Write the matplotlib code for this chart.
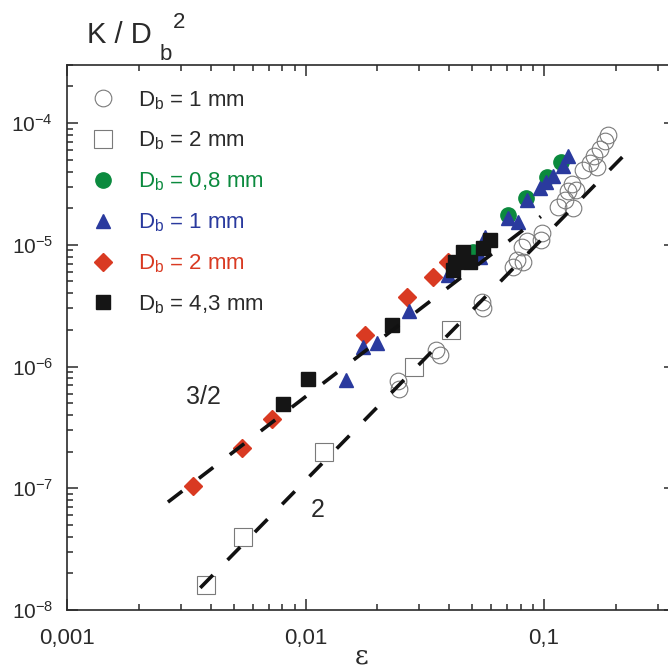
import matplotlib
matplotlib.use("Agg")
import matplotlib.pyplot as plt
from matplotlib.ticker import LogLocator, FuncFormatter, NullFormatter
import numpy as np

plt.rcParams['font.family'] = ['Liberation Sans', 'DejaVu Sans']
plt.rcParams['mathtext.fontset'] = 'custom'
plt.rcParams['mathtext.rm'] = 'Liberation Sans'
plt.rcParams['mathtext.it'] = 'Liberation Sans:italic'
plt.rcParams['mathtext.bf'] = 'Liberation Sans:bold'
plt.rcParams['axes.unicode_minus'] = False

# ---------------- data ----------------
open_circle_x = [0.0244, 0.0246, 0.0352, 0.0366, 0.0549, 0.0555, 0.0741, 0.0771,
                 0.0809, 0.0849, 0.0817, 0.0982, 0.0971, 0.1146, 0.1225, 0.1325,
                 0.126, 0.131, 0.136, 0.146, 0.156, 0.162, 0.172, 0.167, 0.180, 0.185]
open_circle_y = [7.6e-7, 6.5e-7, 1.37e-6, 1.24e-6, 3.4e-6, 3.0e-6, 6.6e-6, 7.5e-6,
                 9.6e-6, 1.08e-5, 7.2e-6, 1.25e-5, 1.1e-5, 2.05e-5, 2.34e-5, 2.01e-5,
                 2.77e-5, 3.16e-5, 2.82e-5, 4.12e-5, 4.71e-5, 5.37e-5, 6.14e-5, 4.36e-5,
                 7.1e-5, 8.0e-5]

open_square_x = [0.00383, 0.00547, 0.0120, 0.0285, 0.0407]
open_square_y = [1.6e-8, 4.0e-8, 2.0e-7, 9.9e-7, 2.0e-6]

green_x = [0.0504, 0.0706, 0.0841, 0.103, 0.1178]
green_y = [8.7e-6, 1.76e-5, 2.43e-5, 3.61e-5, 4.8e-5]

blue_x = [0.0148, 0.0174, 0.0200, 0.0272, 0.0395, 0.054, 0.0566, 0.0706, 0.0778,
          0.0849, 0.0962, 0.1019, 0.109, 0.120, 0.126]
blue_y = [7.8e-7, 1.45e-6, 1.56e-6, 2.86e-6, 5.66e-6, 7.96e-6, 1.16e-5, 1.66e-5,
          1.54e-5, 2.34e-5, 2.94e-5, 3.29e-5, 3.68e-5, 4.45e-5, 5.37e-5]

red_x = [0.00337, 0.00542, 0.00725, 0.0177, 0.0267, 0.0343, 0.0395]
red_y = [1.05e-7, 2.14e-7, 3.7e-7, 1.82e-6, 3.73e-6, 5.44e-6, 7.2e-6]

black_x = [0.00806, 0.0102, 0.0231, 0.0415, 0.0424, 0.0457, 0.049, 0.0555, 0.0594]
black_y = [4.9e-7, 7.9e-7, 2.2e-6, 6.2e-6, 7.2e-6, 8.7e-6, 7.2e-6, 9.4e-6, 1.1e-5]

line32_x = [0.00265, 0.097]
line32_y = [7.7e-8, 1.71e-5]
line2_x = [0.00362, 0.239]
line2_y = [1.52e-8, 6.63e-5]

legend_labels = [r"D$_\mathregular{b}$ = 1 mm", r"D$_\mathregular{b}$ = 2 mm",
                 r"D$_\mathregular{b}$ = 0,8 mm", r"D$_\mathregular{b}$ = 1 mm",
                 r"D$_\mathregular{b}$ = 2 mm", r"D$_\mathregular{b}$ = 4,3 mm"]
x_tick_values = [0.001, 0.01, 0.1]
x_tick_labels = ["0,001", "0,01", "0,1"]

# ---------------- style ----------------
GRAY = '#7a7a7a'
GREEN = '#0b8a3e'
BLUE = '#2a3a9e'
RED = '#d93a22'
BLACK = '#151515'
TXT = '#2a2a2a'

fig = plt.figure(figsize=(6.68, 6.72), dpi=100)
ax = fig.add_axes([67/668, (672-610)/672, 608/668, 545/672])
ax.set_xscale('log')
ax.set_yscale('log')
ax.set_xlim(0.001, 0.354)
ax.set_ylim(1e-8, 3.0e-4)

h1, = ax.plot(open_circle_x, open_circle_y, 'o', ms=12, mfc='none', mec=GRAY, mew=0.8,
              ls='none', label=legend_labels[0], zorder=2)
h2, = ax.plot(open_square_x, open_square_y, 's', ms=12.5, mfc='white', mec=GRAY, mew=0.8,
              ls='none', label=legend_labels[1], zorder=2)
h3, = ax.plot(green_x, green_y, 'o', ms=11, color=GREEN, mec=GREEN,
              ls='none', label=legend_labels[2], zorder=3)
h5, = ax.plot(red_x, red_y, 'D', ms=9.5, color=RED, mec=RED,
              ls='none', label=legend_labels[4], zorder=3)
h4, = ax.plot(blue_x, blue_y, '^', ms=10, color=BLUE, mec=BLUE,
              ls='none', label=legend_labels[3], zorder=4)
h6, = ax.plot(black_x, black_y, 's', ms=10, color=BLACK, mec=BLACK,
              ls='none', label=legend_labels[5], zorder=5)

ax.plot(line32_x, line32_y, color='#111111', lw=2.6, dashes=(5.0, 5.8),
        dash_capstyle='butt', zorder=6)
ax.plot(line2_x, line2_y, color='#111111', lw=2.6, dashes=(5.0, 5.8),
        dash_capstyle='butt', zorder=6)

ax.text(0.00372, 5.6e-7, "3/2", fontsize=18, color=TXT, ha='center', va='center')
ax.text(0.01127, 6.6e-8, "2", fontsize=18, color=TXT, ha='center', va='center')

# ticks
ax.xaxis.set_minor_locator(LogLocator(base=10, subs=np.arange(2, 10), numticks=20))
ax.yaxis.set_major_locator(LogLocator(base=10, numticks=10))
ax.yaxis.set_minor_locator(LogLocator(base=10, subs=np.arange(2, 10), numticks=20))
ax.set_xticks(x_tick_values)
ax.set_xticklabels(x_tick_labels)
ax.xaxis.set_minor_formatter(NullFormatter())
ax.yaxis.set_major_formatter(FuncFormatter(
    lambda v, p: r"$\mathregular{10^{%d}}$" % int(round(np.log10(v)))))
ax.yaxis.set_minor_formatter(NullFormatter())

ax.tick_params(which='both', direction='in', top=True, right=True, colors=TXT,
               labelcolor=TXT, width=1.1)
ax.tick_params(which='major', length=8, labelsize=15)
ax.tick_params(axis='x', which='major', labelsize=16)
ax.tick_params(which='minor', length=4.5)
ax.tick_params(axis='x', which='major', pad=13)
ax.tick_params(axis='y', which='major', pad=10)
for s in ax.spines.values():
    s.set_color(TXT)
    s.set_linewidth(1.2)

# legend
leg = ax.legend(handles=[h1, h2, h3, h4, h5, h6], loc='upper left',
                bbox_to_anchor=((90.5-67)/608, (610-89)/545), borderaxespad=0,
                borderpad=0, frameon=False, fontsize=16, handlelength=1.1,
                handletextpad=1.05, labelspacing=0.82, numpoints=1,
                labelcolor=[TXT, TXT, GREEN, BLUE, RED, TXT])

# axis titles: "K / D" with subscript b and superscript 2
fig.text(87/668, 1-43/672, "K / D", fontsize=21, color=TXT, ha='left', va='baseline')
fig.text(160/668, 1-60/672, "b", fontsize=16, color=TXT, ha='left', va='baseline')
fig.text(173/668, 1-28/672, "2", fontsize=16, color=TXT, ha='left', va='baseline')
fig.text(362/668, 1-656/672, "ε", fontsize=19, family=['DejaVu Serif'],
         color=TXT, ha='center', va='center')

fig.savefig("out.png", dpi=100)
